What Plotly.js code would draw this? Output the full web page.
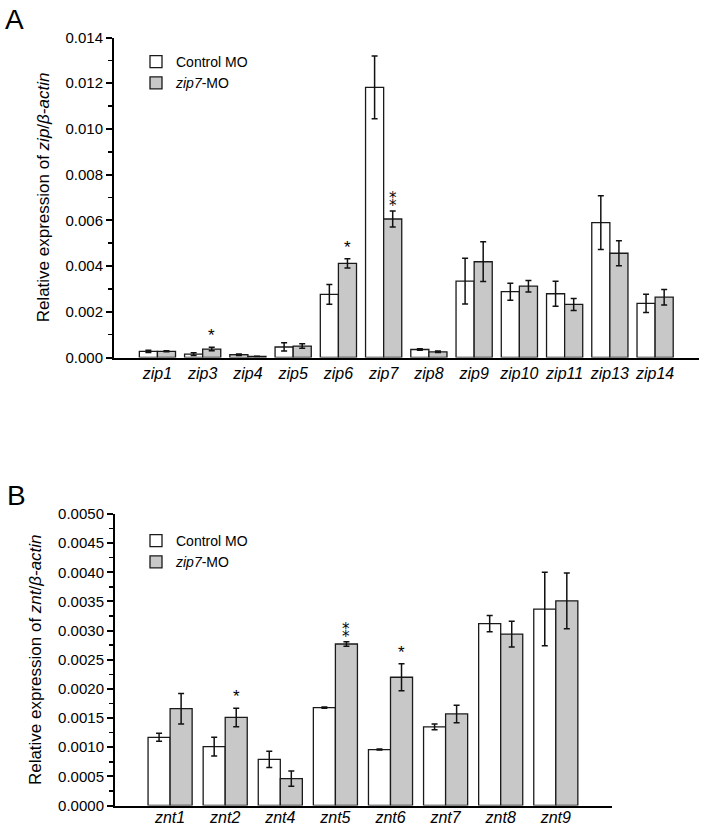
<!DOCTYPE html>
<html>
<head>
<meta charset="utf-8">
<script src="https://cdn.plot.ly/plotly-3.0.1.min.js"></script>
<style>html,body{margin:0;padding:0;background:#fff;}#chart{width:703px;height:828px;}</style>
</head>
<body>
<div id="chart"></div>
<script>
// Panel A data
var zipCats = ['zip1','zip3','zip4','zip5','zip6','zip7','zip8','zip9','zip10','zip11','zip13','zip14'];
var zipCtrl = [0.00027,0.00015,0.00012,0.00046,0.00276,0.01182,0.00035,0.00334,0.00288,0.00279,0.00590,0.00237];
var zipCtrlErr = [0.00005,0.00006,0.00003,0.00018,0.00043,0.00137,0.00003,0.00100,0.00037,0.00055,0.00118,0.00040];
var zipMO = [0.00027,0.00037,0.00005,0.00050,0.00412,0.00606,0.00025,0.00419,0.00312,0.00232,0.00456,0.00264];
var zipMOErr = [0.00002,0.00008,0.00001,0.00010,0.00020,0.00035,0.00003,0.00087,0.00025,0.00026,0.00055,0.00034];
var zipSig = ['','*','','','*','**','','','','','',''];

// Panel B data
var zntCats = ['znt1','znt2','znt4','znt5','znt6','znt7','znt8','znt9'];
var zntCtrl = [0.00117,0.00101,0.00079,0.00168,0.00096,0.00135,0.00312,0.00337];
var zntCtrlErr = [0.00007,0.00016,0.00014,0.00001,0.00001,0.00005,0.00014,0.00063];
var zntMO = [0.00166,0.00151,0.00046,0.00277,0.00220,0.00157,0.00294,0.00351];
var zntMOErr = [0.00026,0.00016,0.00013,0.00004,0.00023,0.00015,0.00022,0.00048];
var zntSig = ['','*','','**','*','','',''];

var seriesNames = ['Control MO', '<i>zip7</i>-MO'];
var FONT = 'Liberation Sans, Arial, Helvetica, sans-serif';
var W = 703, H = 828;
function px(x){ return x / W; }
function py(y){ return 1 - y / H; }

var lineStyle = {color: '#1a1a1a', width: 1.3};
var errStyle = {type: 'data', color: '#111', thickness: 1.5, width: 3};

function makeTraces(cats, ctrl, ctrlErr, mo, moErr, xa, ya, leg) {
  return [
    {type: 'bar', name: seriesNames[0], x: cats, y: ctrl, xaxis: xa, yaxis: ya, legend: leg,
     marker: {color: '#ffffff', line: lineStyle},
     error_y: Object.assign({array: ctrlErr}, errStyle)},
    {type: 'bar', name: seriesNames[1], x: cats, y: mo, xaxis: xa, yaxis: ya, legend: leg,
     marker: {color: 'rgb(200,200,200)', line: lineStyle},
     error_y: Object.assign({array: moErr}, errStyle)}
  ];
}

var data = makeTraces(zipCats, zipCtrl, zipCtrlErr, zipMO, zipMOErr, 'x', 'y', 'legend')
  .concat(makeTraces(zntCats, zntCtrl, zntCtrlErr, zntMO, zntMOErr, 'x2', 'y2', 'legend2'));

var annotations = [];
function addStars(sig, vals, errs, xref, yref) {
  for (var i = 0; i < sig.length; i++) {
    if (!sig[i]) continue;
    var dbl = sig[i].length === 2;
    annotations.push({xref: xref, yref: yref, x: i + 0.2, y: vals[i] + errs[i],
      text: dbl ? '\u2051' : '*', showarrow: false, yanchor: 'bottom', yshift: dbl ? -1 : 0,
      font: {family: dbl ? 'DejaVu Sans, Noto Sans, sans-serif' : FONT, size: dbl ? 15 : 17, color: '#000'}});
  }
}
addStars(zipSig, zipMO, zipMOErr, 'x', 'y');
addStars(zntSig, zntMO, zntMOErr, 'x2', 'y2');

annotations.push({xref: 'paper', yref: 'paper', x: px(3), y: py(2), xanchor: 'left', yanchor: 'top',
  text: 'A', showarrow: false, font: {family: FONT, size: 28, color: '#000'}});
annotations.push({xref: 'paper', yref: 'paper', x: px(5), y: py(478), xanchor: 'left', yanchor: 'top',
  text: 'B', showarrow: false, font: {family: FONT, size: 28, color: '#000'}});

var xBase = {
  type: 'category', showline: true, linewidth: 2, linecolor: '#000', ticks: '',
  showgrid: false, zeroline: false, fixedrange: true,
  tickfont: {family: FONT, size: 16, color: '#000', style: 'italic'}
};
var yBase = {
  showline: true, linewidth: 2, linecolor: '#000', ticks: 'outside', ticklen: 6, tickwidth: 2,
  tickcolor: '#000', showgrid: false, zeroline: false, fixedrange: true,
  tickfont: {family: FONT, size: 15, color: '#000'}
};

var layout = {
  width: W, height: H,
  margin: {l: 0, r: 0, t: 0, b: 0},
  paper_bgcolor: '#fff', plot_bgcolor: '#fff',
  font: {family: FONT, color: '#000'},
  barmode: 'group', bargap: 0.2, bargroupgap: 0,
  xaxis: Object.assign({}, xBase, {domain: [px(114), px(699)], range: [-0.96, 11.97], anchor: 'y'}),
  yaxis: Object.assign({}, yBase, {domain: [py(357.5), py(37.5)], range: [0, 0.014], dtick: 0.002,
    tickformat: '.3f', anchor: 'x',
    minor: {ticks: 'outside', ticklen: 4, tickwidth: 1.5, tickcolor: '#000', dtick: 0.001},
    title: {text: 'Relative expression of <i>zip</i>/<i>β-actin</i>', standoff: 12,
      font: {family: FONT, size: 17, color: '#000'}}}),
  xaxis2: Object.assign({}, xBase, {domain: [px(115), px(612)], range: [-1.0, 8.02], anchor: 'y2',
    ticklabelstandoff: -4}),
  yaxis2: Object.assign({}, yBase, {domain: [py(805.5), py(514)], range: [0, 0.005], dtick: 0.0005,
    tickformat: '.4f', anchor: 'x2',
    minor: {ticks: 'outside', ticklen: 4, tickwidth: 1.5, tickcolor: '#000', dtick: 0.00025},
    title: {text: 'Relative expression of <i>znt</i>/<i>β-actin</i>', standoff: 12,
      font: {family: FONT, size: 17, color: '#000'}}}),
  legend: {x: px(136), y: py(46), xanchor: 'left', yanchor: 'top', bgcolor: 'rgba(0,0,0,0)',
    font: {family: FONT, size: 14, color: '#000'}, tracegroupgap: 0, traceorder: 'normal'},
  legend2: {x: px(136), y: py(525), xanchor: 'left', yanchor: 'top', bgcolor: 'rgba(0,0,0,0)',
    font: {family: FONT, size: 14, color: '#000'}, tracegroupgap: 0, traceorder: 'normal'},
  showlegend: true,
  annotations: annotations
};

Plotly.newPlot('chart', data, layout, {displayModeBar: false, staticPlot: true});
</script>
</body>
</html>
